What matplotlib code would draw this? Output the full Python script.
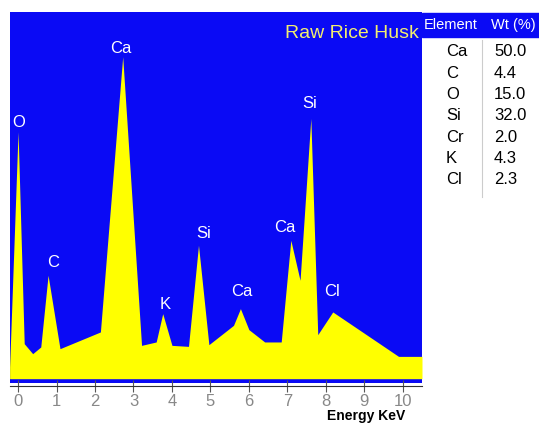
import matplotlib
matplotlib.use("Agg")
import matplotlib.pyplot as plt
from matplotlib.patches import Rectangle
from matplotlib.lines import Line2D

plt.rcParams['font.family'] = ['Liberation Sans', 'DejaVu Sans']

# spectrum outline (energy keV, counts)
energy = [-0.22, 0.0, 0.16, 0.38, 0.59, 0.78, 1.09, 2.14, 2.72, 3.21, 3.59, 3.76, 4.0,
          4.43, 4.69, 4.96, 5.60, 5.78, 6.0, 6.41, 6.84, 7.09, 7.33, 7.61, 7.79,
          8.18, 9.89, 10.5]
counts = [11.7, 246.7, 35, 25, 31.7, 103.3, 30, 46.7, 321.7, 33.3, 36.7, 65, 33.3,
          32.3, 133.3, 34, 53.3, 70, 49, 36.7, 36.7, 138.3, 98.3, 260, 44,
          66.7, 22.3, 22.3]

# peak labels
peak_names = ['O', 'C', 'Ca', 'K', 'Si', 'Ca', 'Ca', 'Si', 'Cl']
peak_x = [0.02, 0.90, 2.66, 3.82, 4.82, 5.81, 6.94, 7.57, 8.15]
peak_y = [255.7, 116, 330, 74, 145, 86.7, 150.7, 275, 87.3]

# composition table
elements = ['Ca', 'C', 'O', 'Si', 'Cr', 'K', 'Cl']
wt = ['50.0', '4.4', '15.0', '32.0', '2.0', '4.3', '2.3']

W, H = 539, 424
fig = plt.figure(figsize=(W / 100, H / 100), dpi=100)
ax = fig.add_axes([9.6 / W, 1 - 383 / H, (422 - 9.6) / W, (383 - 11.7) / H])
ax.set_facecolor('#0a0af5')
ax.fill_between(energy, counts, 0, color='#ffff00', lw=0)
ax.set_xlim(-0.22, 10.5)
ax.set_ylim(-4.3, 366.7)

for name, x, y in zip(peak_names, peak_x, peak_y):
    ax.text(x, y, name, color='white', fontsize=12, ha='center', va='center')

ax.text(8.68, 345, 'Raw Rice Husk', color='#f2ee70', fontsize=14, ha='center', va='center')

for s in ['left', 'top', 'right']:
    ax.spines[s].set_visible(False)
ax.spines['bottom'].set_position(('outward', 2))
ax.spines['bottom'].set_color('#333333')
ax.set_yticks([])
ax.set_xticks(range(0, 11))
ax.tick_params(axis='x', direction='inout', length=8, color='#555555',
               labelcolor='#888888', labelsize=12, pad=2)

fig.text(366 / W, 1 - 416 / H, 'Energy KeV', fontsize=10, fontweight='bold',
         ha='center', va='center', color='black')

# table
fig.patches.append(Rectangle((422 / W, 1 - 37 / H), (W - 422) / W, 24 / H,
                             transform=fig.transFigure, color='#0a0af5', zorder=0))
fig.text(451 / W, 1 - 25 / H, 'Element', color='white', fontsize=10.5, ha='center', va='center')
fig.text(513 / W, 1 - 25 / H, 'Wt (%)', color='white', fontsize=10.5, ha='center', va='center')
fig.lines.append(Line2D([482 / W, 482 / W], [1 - 40 / H, 1 - 197 / H],
                        transform=fig.transFigure, color='#cccccc', lw=0.8))
for i, (el, v) in enumerate(zip(elements, wt)):
    yy = 1 - (52 + i * 21.3) / H
    fig.text(446 / W, yy, el, fontsize=12, ha='left', va='center', color='black')
    fig.text(494 / W, yy, v, fontsize=12, ha='left', va='center', color='black')

fig.savefig('out.png', dpi=100)
